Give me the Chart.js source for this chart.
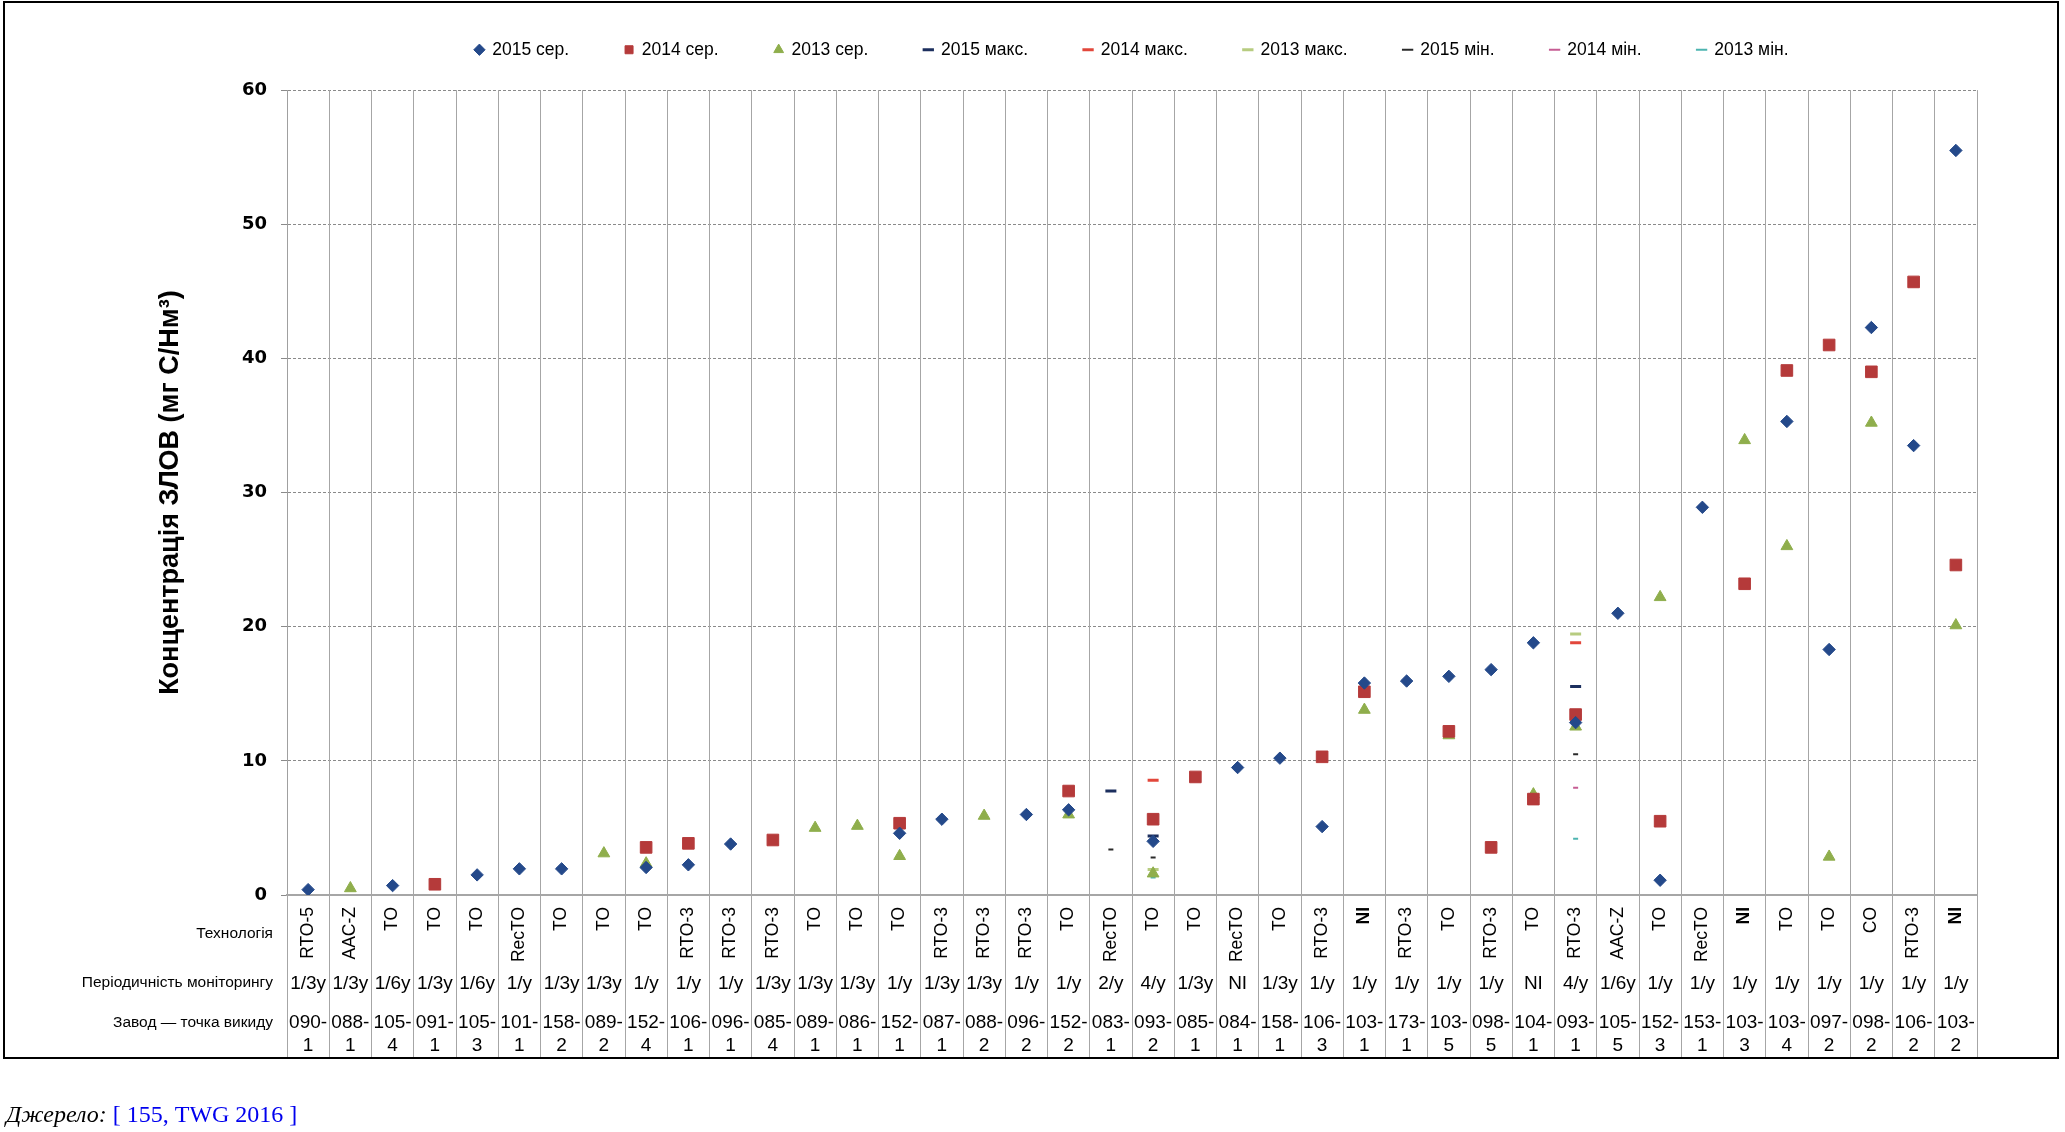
<!DOCTYPE html>
<html>
<head>
<meta charset="utf-8">
<script src="https://cdn.jsdelivr.net/npm/chart.js@4.4.1/dist/chart.umd.min.js"></script>
<style>
html,body{margin:0;padding:0;background:#fff;}
#wrap{position:relative;width:2065px;height:1132px;overflow:hidden;background:#fff;}
#c{position:absolute;left:0;top:0;}
#frame{position:absolute;left:3px;top:1px;width:2056px;height:1058px;border:2px solid #000;box-sizing:border-box;pointer-events:none;}
#src{position:absolute;left:6px;top:1101px;font-family:'Liberation Serif','Times New Roman',serif;font-size:24px;color:#000;white-space:nowrap;}
#src span{color:#0000ee;}
</style>
</head>
<body>
<div id="wrap">
<canvas id="c" width="2065" height="1132"></canvas>
<div id="frame"></div>
<div id="src"><i>Джерело:</i> <span>[ 155, TWG 2016 ]</span></div>
</div>
<script>
// ---- Category rows ----
const techLabels = ['RTO-5','AAC-Z','TO','TO','TO','RecTO','TO','TO','TO','RTO-3',
  'RTO-3','RTO-3','TO','TO','TO','RTO-3','RTO-3','RTO-3','TO','RecTO',
  'TO','TO','RecTO','TO','RTO-3','NI','RTO-3','TO','RTO-3','TO',
  'RTO-3','AAC-Z','TO','RecTO','NI','TO','TO','CO','RTO-3','NI'];
const freqLabels = ['1/3y','1/3y','1/6y','1/3y','1/6y','1/y','1/3y','1/3y','1/y','1/y',
  '1/y','1/3y','1/3y','1/3y','1/y','1/3y','1/3y','1/y','1/y','2/y',
  '4/y','1/3y','NI','1/3y','1/y','1/y','1/y','1/y','1/y','NI',
  '4/y','1/6y','1/y','1/y','1/y','1/y','1/y','1/y','1/y','1/y'];
const plantLabels = [['090-','1'],['088-','1'],['105-','4'],['091-','1'],['105-','3'],['101-','1'],['158-','2'],['089-','2'],['152-','4'],['106-','1'],
  ['096-','1'],['085-','4'],['089-','1'],['086-','1'],['152-','1'],['087-','1'],['088-','2'],['096-','2'],['152-','2'],['083-','1'],
  ['093-','2'],['085-','1'],['084-','1'],['158-','1'],['106-','3'],['103-','1'],['173-','1'],['103-','5'],['098-','5'],['104-','1'],
  ['093-','1'],['105-','5'],['152-','3'],['153-','1'],['103-','3'],['103-','4'],['097-','2'],['098-','2'],['106-','2'],['103-','2']];
const rowTitles = ['Технологія','Періодичність моніторингу','Завод — точка викиду'];
const yTicks = [0,10,20,30,40,50,60];
const yTitle = 'Концентрація ЗЛОВ (мг С/Нм³)';
const seriesNames = ['2015 сер.','2014 сер.','2013 сер.','2015 макс.','2014 макс.','2013 макс.','2015 мін.','2014 мін.','2013 мін.'];

// ---- Series values ----
const avg2015 = [0.4,null,0.7,null,1.5,1.95,1.95,null,2.05,2.25,
  3.8,null,null,null,4.6,5.65,null,6.0,6.35,null,
  4.0,null,9.5,10.2,5.1,15.8,15.95,16.3,16.8,18.8,
  12.85,21.0,1.1,28.9,null,35.3,18.3,42.3,33.5,55.5];
const avg2014 = [null,null,null,0.8,null,null,null,null,3.55,3.85,
  null,4.1,null,null,5.35,null,null,null,7.75,null,
  5.65,8.8,null,null,10.3,15.15,null,12.2,3.55,7.15,
  13.45,null,5.5,null,23.2,39.1,41.0,39.0,45.7,24.6];
const avg2013 = [null,0.5,null,null,null,null,null,3.1,2.35,null,
  null,null,5.0,5.15,2.9,null,5.9,null,6.0,null,
  1.6,null,null,null,null,13.8,null,11.9,null,7.5,
  12.55,null,22.2,null,33.9,26.0,2.85,35.2,null,20.1];
const max2015 = [null,null,null,null,null,null,null,null,null,null,
  null,null,null,null,null,null,null,null,null,7.75,
  4.4,null,null,null,null,null,null,null,null,null,
  15.55,null,null,null,null,null,null,null,null,null];
const max2014 = [null,null,null,null,null,null,null,null,null,null,
  null,null,null,null,null,null,null,null,null,null,
  8.55,null,null,null,null,null,null,null,null,null,
  18.8,null,null,null,null,null,null,null,null,null];
const max2013 = [null,null,null,null,null,null,null,null,null,null,
  null,null,null,null,null,null,null,null,null,null,
  1.9,null,null,null,null,null,null,null,null,null,
  19.45,null,null,null,null,null,null,null,null,null];
const min2015 = [null,null,null,null,null,null,null,null,null,null,
  null,null,null,null,null,null,null,null,null,3.4,
  2.8,null,null,null,null,null,null,null,null,null,
  10.5,null,null,null,null,null,null,null,null,null];
const min2014 = [null,null,null,null,null,null,null,null,null,null,
  null,null,null,null,null,null,null,null,null,null,
  4.1,null,null,null,null,null,null,null,null,null,
  8.0,null,null,null,null,null,null,null,null,null];
const min2013 = [null,null,null,null,null,null,null,null,null,null,
  null,null,null,null,null,null,null,null,null,null,
  1.3,null,null,null,null,null,null,null,null,null,
  4.2,null,null,null,null,null,null,null,null,null];

const SANS = "'Liberation Sans', Arial, sans-serif";

function ds(label, data, style, color, radius, bw) {
  return {
    label, data, showLine: false, pointStyle: style,
    backgroundColor: color, borderColor: color,
    pointRadius: radius, pointHoverRadius: radius,
    borderWidth: bw, pointBorderWidth: bw, xAxisID: 'x', yAxisID: 'y'
  };
}

const datasets = [
  ds(seriesNames[0], avg2015, 'rectRot', '#24498A', 6.2, 1),
  ds(seriesNames[1], avg2014, 'rect', '#B53A3A', 8.2, 1),
  ds(seriesNames[2], avg2013, 'triangle', '#8FAE4C', 6.8, 1),
  ds(seriesNames[3], max2015, 'line', '#1C2F5E', 5.5, 3),
  ds(seriesNames[4], max2014, 'line', '#E2473B', 5.5, 3),
  ds(seriesNames[5], max2013, 'line', '#B7CC80', 5.5, 3),
  ds(seriesNames[6], min2015, 'line', '#2A2A2A', 2.5, 2),
  ds(seriesNames[7], min2014, 'line', '#C65C93', 2.5, 2),
  ds(seriesNames[8], min2013, 'line', '#4DB4B0', 2.5, 2)
];

const rowHeaders = {
  id: 'rowHeaders',
  afterDraw(chart) {
    const {ctx, chartArea, scales} = chart;
    ctx.save();
    ctx.fillStyle = '#000';
    ctx.font = '15.5px ' + SANS;
    ctx.textAlign = 'right';
    ctx.textBaseline = 'middle';
    const x = chartArea.left - 14;
    ctx.fillText(rowTitles[0], x, (scales.x.top + scales.x.bottom) / 2);
    ctx.fillText(rowTitles[1], x, scales.x2.top + 10.5);
    ctx.fillText(rowTitles[2], x, scales.x3.top + 21);
    ctx.restore();
  }
};

new Chart(document.getElementById('c'), {
  type: 'line',
  data: { labels: plantLabels.map(p => p.join('')), datasets },
  plugins: [rowHeaders],
  options: {
    responsive: false, animation: false, devicePixelRatio: 1,
    layout: { padding: { top: -15, left: 0, right: 88, bottom: 74 } },
    plugins: {
      legend: {
        position: 'top', fullSize: false,
        labels: {
          usePointStyle: true, boxWidth: 8, boxHeight: 8, padding: 56,
          color: '#000', font: { family: SANS, size: 17.5 }
        }
      },
      subtitle: { display: true, text: ' ', position: 'top', weight: 500, padding: 0, font: { size: 18, lineHeight: 1.2 } },
      title: { display: false },
      tooltip: { enabled: false }
    },
    scales: {
      y: {
        min: 0, max: 60,
        afterBuildTicks: s => { s.ticks = yTicks.map(v => ({ value: v })); },
        ticks: { padding: 14, color: '#000', font: { family: "'DejaVu Sans', sans-serif", weight: 'bold', size: 18 } },
        grid: {
          color: c => (c.tick && c.tick.value === 0) ? 'rgba(0,0,0,0)' : '#8a8a8a',
          lineWidth: 1, drawTicks: true, tickLength: 6, tickColor: '#8a8a8a'
        },
        border: { display: true, color: '#a0a0a0', width: 1, dash: [3, 2] },
        title: {
          display: true, text: yTitle, color: '#000',
          font: { family: "'Liberation Sans Narrow', 'Liberation Sans', Arial, sans-serif", size: 27, weight: 'bold' },
          padding: { top: 154, bottom: 0 }
        },
        afterFit: s => { s.width = 287; }
      },
      x: {
        type: 'category', labels: techLabels, position: 'bottom', offset: true, weight: 0, display: true,
        grid: { offset: true, color: '#a6a6a6', lineWidth: 1, drawOnChartArea: true, drawTicks: true, tickLength: 77, tickColor: '#a6a6a6' },
        border: { display: true, color: '#a6a6a6', width: 2 },
        ticks: {
          autoSkip: false, minRotation: 90, maxRotation: 90, padding: -65, color: '#000',
          font: c => ({ family: SANS, size: 17.5, weight: (c.tick && c.tick.label === 'NI') ? 'bold' : 'normal' })
        },
        afterFit: s => { s.height = 77; }
      },
      x2: {
        type: 'category', labels: freqLabels, position: 'bottom', offset: true, weight: 1, display: true,
        grid: { offset: true, color: '#a6a6a6', lineWidth: 1, drawOnChartArea: false, drawTicks: true, tickLength: 30, tickColor: '#a6a6a6' },
        border: { display: false },
        ticks: { autoSkip: false, minRotation: 0, maxRotation: 0, padding: -30, color: '#000', font: { family: SANS, size: 19 } },
        afterFit: s => { s.height = 30; }
      },
      x3: {
        type: 'category', labels: plantLabels, position: 'bottom', offset: true, weight: 2, display: true,
        grid: { offset: true, color: '#a6a6a6', lineWidth: 1, drawOnChartArea: false, drawTicks: true, tickLength: 56, tickColor: '#a6a6a6' },
        border: { display: false },
        ticks: { autoSkip: false, minRotation: 0, maxRotation: 0, padding: -46, color: '#000', font: { family: SANS, size: 19, lineHeight: 1.18 } },
        afterFit: s => { s.height = 56; }
      }
    }
  }
});
</script>
</body>
</html>
